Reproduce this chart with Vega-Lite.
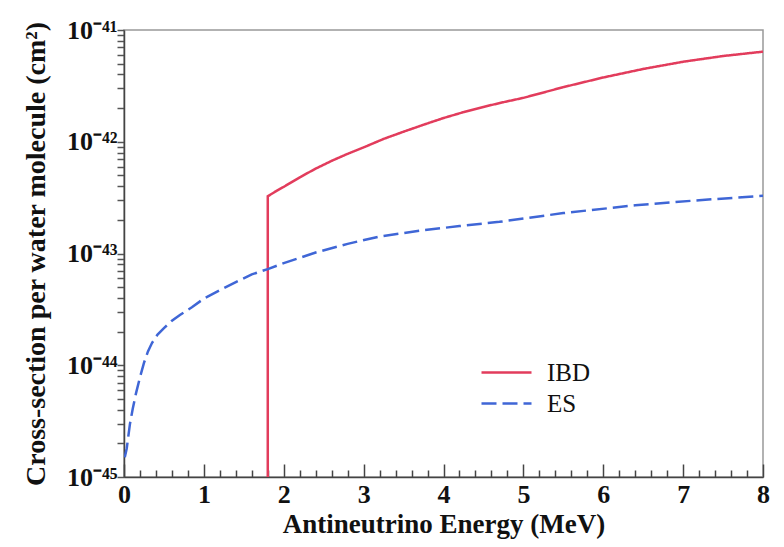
{
  "$schema": "https://vega.github.io/schema/vega-lite/v6.json",
  "width": 639,
  "height": 447,
  "autosize": {"type": "none"},
  "padding": {"left": 124, "top": 30, "right": 21, "bottom": 70},
  "background": "white",
  "config": {
    "view": {"stroke": "#999999", "strokeWidth": 1.5},
    "font": "Liberation Serif",
    "legend": {
      "orient": "none",
      "legendX": 356,
      "legendY": 327,
      "title": null,
      "labelFont": "Liberation Serif",
      "labelFontSize": 25,
      "labelColor": "#111111",
      "labelOffset": 14,
      "symbolType": "stroke",
      "symbolSize": 2500,
      "symbolStrokeWidth": 2.5,
      "clipHeight": 31,
      "rowPadding": 0
    }
  },
  "data": {
    "values": [
      {"series": "IBD", "i": 0, "E": 1.8, "sigma": 1e-45},
      {"series": "IBD", "i": 1, "E": 1.8, "sigma": 3.25e-43},
      {"series": "IBD", "i": 2, "E": 1.9, "sigma": 3.6e-43},
      {"series": "IBD", "i": 3, "E": 2.0, "sigma": 3.95e-43},
      {"series": "IBD", "i": 4, "E": 2.2, "sigma": 4.8e-43},
      {"series": "IBD", "i": 5, "E": 2.4, "sigma": 5.75e-43},
      {"series": "IBD", "i": 6, "E": 2.6, "sigma": 6.75e-43},
      {"series": "IBD", "i": 7, "E": 2.8, "sigma": 7.8e-43},
      {"series": "IBD", "i": 8, "E": 3.0, "sigma": 8.9e-43},
      {"series": "IBD", "i": 9, "E": 3.25, "sigma": 1.06e-42},
      {"series": "IBD", "i": 10, "E": 3.5, "sigma": 1.23e-42},
      {"series": "IBD", "i": 11, "E": 3.75, "sigma": 1.42e-42},
      {"series": "IBD", "i": 12, "E": 4.0, "sigma": 1.63e-42},
      {"series": "IBD", "i": 13, "E": 4.25, "sigma": 1.84e-42},
      {"series": "IBD", "i": 14, "E": 4.5, "sigma": 2.05e-42},
      {"series": "IBD", "i": 15, "E": 4.75, "sigma": 2.26e-42},
      {"series": "IBD", "i": 16, "E": 5.0, "sigma": 2.47e-42},
      {"series": "IBD", "i": 17, "E": 5.5, "sigma": 3.08e-42},
      {"series": "IBD", "i": 18, "E": 6.0, "sigma": 3.76e-42},
      {"series": "IBD", "i": 19, "E": 6.5, "sigma": 4.48e-42},
      {"series": "IBD", "i": 20, "E": 7.0, "sigma": 5.2e-42},
      {"series": "IBD", "i": 21, "E": 7.5, "sigma": 5.85e-42},
      {"series": "IBD", "i": 22, "E": 8.0, "sigma": 6.4e-42},
      {"series": "ES", "i": 0, "E": 0.01, "sigma": 1.5e-45},
      {"series": "ES", "i": 1, "E": 0.034, "sigma": 1.8e-45},
      {"series": "ES", "i": 2, "E": 0.075, "sigma": 3.0e-45},
      {"series": "ES", "i": 3, "E": 0.11, "sigma": 4.1e-45},
      {"series": "ES", "i": 4, "E": 0.15, "sigma": 5.6e-45},
      {"series": "ES", "i": 5, "E": 0.2, "sigma": 7.8e-45},
      {"series": "ES", "i": 6, "E": 0.25, "sigma": 1.05e-44},
      {"series": "ES", "i": 7, "E": 0.3, "sigma": 1.33e-44},
      {"series": "ES", "i": 8, "E": 0.35, "sigma": 1.58e-44},
      {"series": "ES", "i": 9, "E": 0.42, "sigma": 1.88e-44},
      {"series": "ES", "i": 10, "E": 0.5, "sigma": 2.15e-44},
      {"series": "ES", "i": 11, "E": 0.6, "sigma": 2.5e-44},
      {"series": "ES", "i": 12, "E": 0.7, "sigma": 2.82e-44},
      {"series": "ES", "i": 13, "E": 0.85, "sigma": 3.3e-44},
      {"series": "ES", "i": 14, "E": 1.0, "sigma": 3.95e-44},
      {"series": "ES", "i": 15, "E": 1.2, "sigma": 4.7e-44},
      {"series": "ES", "i": 16, "E": 1.4, "sigma": 5.55e-44},
      {"series": "ES", "i": 17, "E": 1.6, "sigma": 6.5e-44},
      {"series": "ES", "i": 18, "E": 1.8, "sigma": 7.25e-44},
      {"series": "ES", "i": 19, "E": 2.0, "sigma": 8.2e-44},
      {"series": "ES", "i": 20, "E": 2.4, "sigma": 1.02e-43},
      {"series": "ES", "i": 21, "E": 2.8, "sigma": 1.22e-43},
      {"series": "ES", "i": 22, "E": 3.2, "sigma": 1.42e-43},
      {"series": "ES", "i": 23, "E": 3.7, "sigma": 1.6e-43},
      {"series": "ES", "i": 24, "E": 4.2, "sigma": 1.76e-43},
      {"series": "ES", "i": 25, "E": 4.7, "sigma": 1.92e-43},
      {"series": "ES", "i": 26, "E": 5.5, "sigma": 2.3e-43},
      {"series": "ES", "i": 27, "E": 6.4, "sigma": 2.7e-43},
      {"series": "ES", "i": 28, "E": 7.2, "sigma": 3.0e-43},
      {"series": "ES", "i": 29, "E": 8.0, "sigma": 3.28e-43}
    ]
  },
  "mark": {"type": "line", "strokeWidth": 2.5, "clip": true},
  "encoding": {
    "x": {
      "field": "E",
      "type": "quantitative",
      "scale": {"domain": [0, 8], "nice": false, "zero": false},
      "axis": {
        "title": "Antineutrino Energy (MeV)",
        "titleFont": "Liberation Serif",
        "titleFontSize": 27,
        "titleFontWeight": "bold",
        "titleColor": "#111111",
        "titlePadding": 4,
        "values": [0, 0.2, 0.4, 0.6, 0.8, 1, 1.2, 1.4, 1.6, 1.8, 2, 2.2, 2.4, 2.6, 2.8, 3, 3.2, 3.4, 3.6, 3.8, 4, 4.2, 4.4, 4.6, 4.8, 5, 5.2, 5.4, 5.6, 5.8, 6, 6.2, 6.4, 6.6, 6.8, 7, 7.2, 7.4, 7.6, 7.8, 8],
        "labelExpr": "abs(datum.value - round(datum.value)) < 0.001 ? format(datum.value, 'd') : ''",
        "labelFont": "Liberation Serif",
        "labelFontSize": 26,
        "labelFontWeight": "bold",
        "labelColor": "#111111",
        "labelPadding": {"condition": {"test": "abs(datum.value - round(datum.value)) < 0.001", "value": 17}, "value": 11},
        "labelFlush": false,
        "labelOverlap": false,
        "tickSize": {"condition": {"test": "abs(datum.value - round(datum.value)) < 0.001", "value": -13}, "value": -7},
        "tickColor": "#444444",
        "tickWidth": 1.5,
        "domainColor": "#444444",
        "domainWidth": 1.5,
        "grid": false
      }
    },
    "y": {
      "field": "sigma",
      "type": "quantitative",
      "scale": {"type": "log", "domain": [1e-45, 1e-41], "nice": false},
      "axis": {
        "title": "Cross-section per water molecule (cm²)",
        "titleFont": "Liberation Serif",
        "titleFontSize": 28,
        "titleFontWeight": "bold",
        "titleColor": "#111111",
        "titlePadding": 16,
        "ticks": true,
        "values": [1e-45, 2e-45, 3e-45, 4e-45, 5e-45, 6e-45, 7e-45, 8e-45, 9e-45, 1e-44, 2e-44, 3e-44, 4e-44, 5e-44, 6e-44, 7e-44, 8e-44, 9e-44, 1e-43, 2e-43, 3e-43, 4e-43, 5e-43, 6e-43, 7e-43, 8e-43, 9e-43, 1e-42, 2e-42, 3e-42, 4e-42, 5e-42, 6e-42, 7e-42, 8e-42, 9e-42, 1e-41],
        "labelExpr": "datum.value == 1e-41 ? '10⁻⁴¹' : datum.value == 1e-42 ? '10⁻⁴²' : datum.value == 1e-43 ? '10⁻⁴³' : datum.value == 1e-44 ? '10⁻⁴⁴' : datum.value == 1e-45 ? '10⁻⁴⁵' : ''",
        "labelFont": "Liberation Serif",
        "labelFontSize": 26,
        "labelFontWeight": "bold",
        "labelColor": "#111111",
        "labelPadding": 0,
        "labelFlush": false,
        "labelOverlap": false,
        "tickSize": 7,
        "tickColor": "#555555",
        "tickWidth": 1.5,
        "domainColor": "#444444",
        "domainWidth": 1.5,
        "grid": false
      }
    },
    "color": {
      "field": "series",
      "type": "nominal",
      "scale": {"domain": ["IBD", "ES"], "range": ["#e23c5c", "#3f66d6"]},
      "legend": {"title": null}
    },
    "strokeDash": {
      "field": "series",
      "type": "nominal",
      "scale": {"domain": ["IBD", "ES"], "range": [[1, 0], [15, 6]]},
      "legend": {"title": null}
    },
    "order": {"field": "i", "type": "quantitative"}
  }
}
